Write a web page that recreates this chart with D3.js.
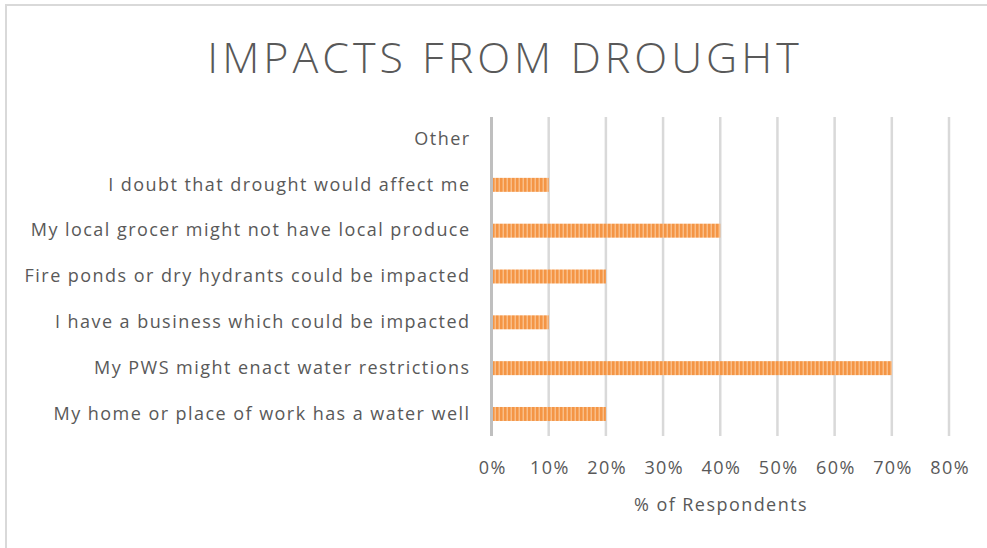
<!DOCTYPE html>
<html>
<head>
<meta charset="utf-8">
<script src="https://cdn.jsdelivr.net/npm/d3@7"></script>
<style>
  html, body { margin: 0; padding: 0; background: #fff; }
  svg { display: block; }
  text { font-family: "Open Sans", "Noto Sans", sans-serif; fill: #595959; }
</style>
</head>
<body>
<svg id="chart" width="987" height="548"></svg>
<script>
// Survey responses, listed top to bottom as shown
const categories = [
  "Other",
  "I doubt that drought would affect me",
  "My local grocer might not have local produce",
  "Fire ponds or dry hydrants could be impacted",
  "I have a business which could be impacted",
  "My PWS might enact water restrictions",
  "My home or place of work has a water well"
];
const shares = [0, 0.10, 0.40, 0.20, 0.10, 0.70, 0.20];
const tickValues = [0, 0.1, 0.2, 0.3, 0.4, 0.5, 0.6, 0.7, 0.8];
const chartTitle = "IMPACTS FROM DROUGHT";
const axisTitle = "% of Respondents";

const svg = d3.select("#chart");
const W = 987, H = 548;
const FONT = "'Open Sans', 'Noto Sans', sans-serif";
const SPACING = 1.45;

// outer frame of the chart area
svg.append("rect").attr("x", 6).attr("y", 5).attr("width", W + 10).attr("height", H + 10)
  .attr("fill", "#fff").attr("stroke", "#d9d9d9").attr("stroke-width", 2);

// striped fill for the bars
const defs = svg.append("defs");
const pat = defs.append("pattern").attr("id", "stripes")
  .attr("patternUnits", "userSpaceOnUse").attr("width", 4).attr("height", 4);
pat.append("rect").attr("x", 0).attr("y", 0).attr("width", 4).attr("height", 4).attr("fill", "#f7a964");
pat.append("rect").attr("x", 0).attr("y", 0).attr("width", 2).attr("height", 4).attr("fill", "#f49545");
pat.append("rect").attr("x", 3).attr("y", 0).attr("width", 1).attr("height", 4).attr("fill", "#f9bd88");

const x = d3.scaleLinear().domain([0, 0.8]).range([491.5, 949]);
const y = d3.scaleBand().domain(categories).range([116, 437]).paddingInner(0.695).paddingOuter(0.35);

// vertical gridlines
svg.append("g").selectAll("line").data(tickValues.slice(1)).join("line")
  .attr("x1", d => x(d)).attr("x2", d => x(d))
  .attr("y1", 117).attr("y2", 436)
  .attr("stroke", "#d9d9d9").attr("stroke-width", 2.5);

// bars
svg.append("g").selectAll("rect").data(categories).join("rect")
  .attr("x", x(0))
  .attr("y", d => y(d))
  .attr("width", (d, i) => x(shares[i]) - x(0))
  .attr("height", y.bandwidth())
  .attr("fill", "url(#stripes)");

// category axis line
svg.append("line").attr("x1", x(0)).attr("x2", x(0)).attr("y1", 117).attr("y2", 436)
  .attr("stroke", "#bfbfbf").attr("stroke-width", 3);

// category labels
const yAxis = d3.axisLeft(y).tickSize(0).tickPadding(21);
const gy = svg.append("g").attr("transform", `translate(${x(0)},0)`).call(yAxis);
gy.select(".domain").remove();
gy.selectAll("text").attr("font-size", 18).attr("fill", "#595959")
  .attr("letter-spacing", SPACING)
  .style("font-family", FONT);

// value axis labels
const xAxis = d3.axisBottom(x).tickValues(tickValues).tickSize(0).tickPadding(0)
  .tickFormat(d3.format(".0%"));
const gx = svg.append("g").attr("transform", "translate(0,461)").call(xAxis);
gx.select(".domain").remove();
gx.selectAll("text").attr("font-size", 18).attr("fill", "#595959").attr("dy", "0.71em")
  .attr("letter-spacing", SPACING).attr("dx", SPACING / 2)
  .style("font-family", FONT);

// axis title
svg.append("text").attr("x", 721).attr("y", 511).attr("text-anchor", "middle")
  .attr("font-size", 18).attr("letter-spacing", SPACING).text(axisTitle);

// chart title
svg.append("text").attr("x", 505).attr("y", 73).attr("text-anchor", "middle")
  .attr("font-size", 43).attr("letter-spacing", 4).attr("fill", "#767676")
  .style("font-weight", 300)
  .text(chartTitle);
</script>
</body>
</html>
